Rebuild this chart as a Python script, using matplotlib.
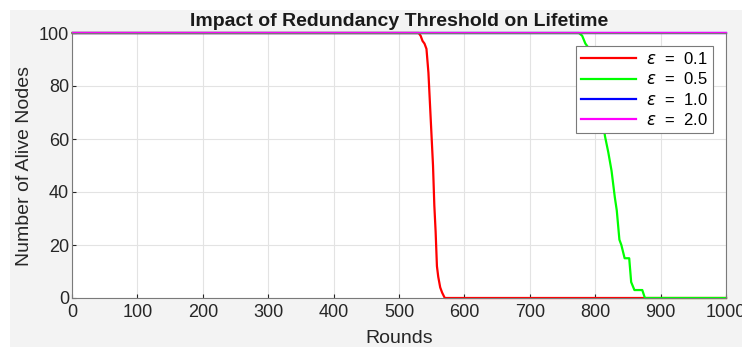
"""Alive nodes vs rounds for several redundancy thresholds."""

import matplotlib.pyplot as plt
from matplotlib.patches import Rectangle

plt.rcParams["font.family"] = ["Liberation Sans", "DejaVu Sans"]
plt.rcParams["mathtext.fontset"] = "dejavusans"

# breakpoints (round, alive nodes)
rounds_eps01 = [1, 530, 533, 536, 539, 542, 545, 548, 550, 552, 554, 556, 558, 560, 563, 566, 570, 1000]
alive_eps01 = [100, 100, 99, 97, 96, 94, 85, 70, 60, 50, 35, 25, 12, 8, 4, 2, 0, 0]

rounds_eps05 = [1, 775, 780, 785, 788, 795, 800, 805, 810, 815, 820, 825, 830, 833, 837, 840, 845, 852, 855, 860, 872, 876, 1000]
alive_eps05 = [100, 100, 99, 96, 95, 90, 85, 78, 70, 61, 55, 48, 38, 33, 22, 20, 15, 15, 6, 3, 3, 0, 0]

rounds_eps10 = [1, 1000]
alive_eps10 = [100, 100]

rounds_eps20 = [1, 1000]
alive_eps20 = [100, 100]

labels = [r"$\varepsilon$  =  0.1", r"$\varepsilon$  =  0.5", r"$\varepsilon$  =  1.0", r"$\varepsilon$  =  2.0"]
colors = ["#ff0000", "#00ff00", "#0000ff", "#ff00ff"]

fig = plt.figure(figsize=(7.42, 3.47), dpi=100)
fig.patch.set_facecolor("white")
bg = Rectangle((10 / 742, 0), 1, 337 / 347, transform=fig.transFigure,
               facecolor="#f3f3f3", edgecolor="none", zorder=-10)
fig.add_artist(bg)

ax = fig.add_axes([72 / 742, 49 / 347, 654 / 742, 265 / 347])
ax.set_zorder(1)
ax.set_facecolor("white")

series = [(rounds_eps01, alive_eps01), (rounds_eps05, alive_eps05),
          (rounds_eps10, alive_eps10), (rounds_eps20, alive_eps20)]
for (r, a), lab, col in zip(series, labels, colors):
    ax.plot(r, a, color=col, lw=1.6, label=lab, clip_on=False)

ax.set_xlim(0, 1000)
ax.set_ylim(0, 100)
ax.set_xticks(range(0, 1001, 100))
ax.set_yticks(range(0, 101, 20))
ax.grid(True, color="#e3e3e3", lw=0.8)
ax.set_axisbelow(True)
ax.tick_params(direction="in", length=3, labelsize=13, colors="#262626")
ax.tick_params(axis="x", pad=4)
ax.tick_params(axis="y", pad=2)
for s in ax.spines.values():
    s.set_color("#7a7a7a")
    s.set_linewidth(0.8)

ax.set_title("Impact of Redundancy Threshold on Lifetime", fontsize=14, fontweight="bold",
             color="#1a1a1a", pad=5)
ax.set_xlabel("Rounds", fontsize=14, color="#262626", labelpad=7)
ax.set_ylabel("Number of Alive Nodes", fontsize=14, color="#262626", labelpad=4)

leg = ax.legend(loc="upper right", bbox_to_anchor=(0.98, 0.95), fontsize=12, handlelength=3.3,
                fancybox=False, edgecolor="#7a7a7a", framealpha=1, borderpad=0.3,
                labelspacing=0.25, handletextpad=0.6, borderaxespad=0)
leg.get_frame().set_linewidth(0.8)

fig.savefig("out.png", dpi=100)
